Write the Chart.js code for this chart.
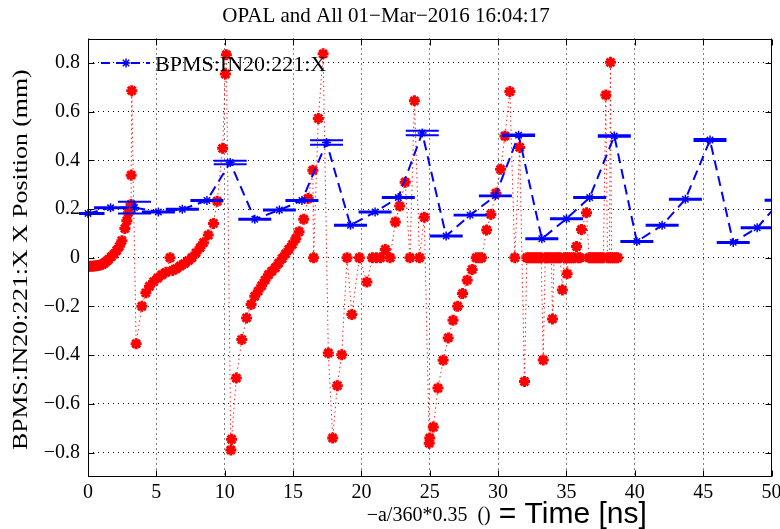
<!DOCTYPE html>
<html><head><meta charset="utf-8">
<script src="https://cdn.jsdelivr.net/npm/chart.js@4.4.0/dist/chart.umd.min.js"></script>
<style>html,body{margin:0;padding:0;background:#fff}#wrap{width:780px;height:529px;position:relative}</style>
</head><body><div id="wrap"><canvas id="c" width="780" height="529"></canvas></div>
<script>
// ---------- text ----------
const titleText = 'OPAL and All 01\u2212Mar\u22122016 16:04:17';
const yAxisTitle = 'BPMS:IN20:221:X X Position (mm)';
const xAxisTitleA = '\u2212a/360*0.35  ()';
const xAxisTitleB = '= Time [ns]';
const seriesLabel = 'BPMS:IN20:221:X';

// ---------- ticks ----------
const xTicks = [0, 5, 10, 15, 20, 25, 30, 35, 40, 45, 50];
const xTickLabels = ['0', '5', '10', '15', '20', '25', '30', '35', '40', '45', '50'];
const yTicks = [-0.8, -0.6, -0.4, -0.2, 0, 0.2, 0.4, 0.6, 0.8];
const yTickLabels = ['\u22120.8', '\u22120.6', '\u22120.4', '\u22120.2', '0', '0.2', '0.4', '0.6', '0.8'];

// ---------- BPM averaged series (blue, with error) ----------
const bpmTime = [0, 1.65, 3.4, 5.15, 6.9, 8.7, 10.4, 12.2, 14.0, 15.65, 17.45, 19.2, 21.0, 22.7, 24.45,
                 26.2, 27.95, 29.8, 31.5, 33.2, 35.0, 36.7, 38.5, 40.15, 42.0, 43.7, 45.5, 47.2, 48.95, 50.7];
const bpmPos  = [0.182, 0.205, 0.206, 0.188, 0.199, 0.235, 0.391, 0.158, 0.196, 0.235, 0.473, 0.133, 0.188, 0.247, 0.512,
                 0.089, 0.175, 0.254, 0.503, 0.078, 0.160, 0.247, 0.500, 0.067, 0.133, 0.240, 0.483, 0.063, 0.123, 0.236];
const bpmErr  = [0.002, 0.002, 0.024, 0.002, 0.002, 0.002, 0.007, 0.002, 0.002, 0.002, 0.009, 0.002, 0.002, 0.002, 0.009,
                 0.002, 0.002, 0.002, 0.003, 0.002, 0.002, 0.002, 0.003, 0.002, 0.002, 0.002, 0.004, 0.002, 0.002, 0.002];

// ---------- raw scan series (red) ----------
const scanTime = [0.0, 0.15, 0.3, 0.45, 0.6, 0.75, 0.9, 1.05, 1.2, 1.35, 1.5, 1.7, 1.9, 2.1, 2.3, 2.48, 2.7, 2.84, 2.95, 3.15, 3.16, 3.2,
  3.52, 3.94, 4.23, 4.5, 4.8, 5.1, 5.4, 5.7, 6.0, 6.2, 6.45, 6.75, 7.05, 7.35, 7.6, 7.9, 8.2, 8.45, 8.8, 9.18, 9.45, 9.85, 10.05, 10.12,
  10.45, 10.5, 10.85, 11.25, 11.6, 11.93, 12.2, 12.45, 12.7, 12.95, 13.2, 13.45, 13.7, 13.95, 14.2, 14.45, 14.7, 14.95, 15.2, 15.44, 15.78, 16.1, 16.45, 16.5, 16.85, 17.2,
  17.58, 17.9, 18.24, 18.56, 18.95, 19.3, 19.85, 20.4, 20.8, 21.1, 21.4, 21.75, 22.1, 22.48, 22.8, 23.2, 23.55, 23.88, 24.25, 24.6,
  24.96, 25.0, 25.26, 25.6, 25.98, 26.35, 26.7, 27.04, 27.4, 27.74, 28.1, 28.4, 28.6, 28.8, 29.16, 29.47, 29.84, 30.18, 30.5, 30.86, 31.22, 31.58,
  31.93, 32.1, 32.25, 32.4, 32.55, 32.7, 32.85, 33.0, 33.15, 33.3, 33.45, 33.6, 33.75, 33.9, 33.98, 34.1, 34.25, 34.4, 34.55, 34.7, 34.85, 35.0, 35.05,
  35.15, 35.3, 35.45, 35.6, 35.74, 35.85, 36.0, 36.1, 36.47,
  36.65, 36.8, 36.95, 37.1, 37.25, 37.4, 37.55, 37.7, 37.88, 38.0, 38.15, 38.22, 38.3, 38.45, 38.6, 38.75];
const scanPos = [-0.036, -0.035, -0.035, -0.034, -0.033, -0.032, -0.030, -0.027, -0.022, -0.015, -0.007, 0.004, 0.015, 0.030, 0.047, 0.070, 0.120, 0.152, 0.185, 0.219, 0.339, 0.686,
  -0.353, -0.199, -0.144, -0.117, -0.098, -0.083, -0.070, -0.060, 0.0, -0.052, -0.045, -0.034, -0.024, -0.012, 0.0, 0.020, 0.041, 0.062, 0.093, 0.141, 0.232, 0.449, 0.754, 0.833,
  -0.789, -0.745, -0.494, -0.336, -0.247, -0.192, -0.158, -0.137, -0.115, -0.092, -0.070, -0.055, -0.041, -0.022, -0.003, 0.016, 0.035, 0.055, 0.078, 0.107, 0.158, 0.243, 0.359, 0.0, 0.572, 0.837,
  -0.391, -0.740, -0.525, -0.398, 0.0, -0.233, 0.0, -0.100, 0.0, 0.0, 0.0, 0.034, 0.0, 0.147, 0.212, 0.310, 0.0, 0.644, 0.0, 0.166,
  -0.761, -0.740, -0.695, -0.535, -0.421, -0.329, -0.257, -0.199, -0.147, -0.092, -0.048, 0.0, 0.0, 0.0, 0.114, 0.178, 0.265, 0.363, 0.500, 0.682, 0.0, 0.453,
  -0.508, 0.0, 0.0, 0.0, 0.0, 0.0, 0.0, 0.0, 0.0, -0.420, 0.0, 0.0, 0.0, 0.0, -0.251, 0.0, 0.0, 0.0, 0.0, -0.132, 0.0, 0.0, -0.066,
  0.0, 0.0, 0.0, 0.0, 0.046, 0.0, 0.0, 0.116, 0.185,
  0.0, 0.0, 0.0, 0.0, 0.0, 0.0, 0.0, 0.0, 0.668, 0.0, 0.0, 0.802, 0.0, 0.0, 0.0, 0.0];

// ---------- styles ----------
const SERIF = '"Liberation Serif", "Times New Roman", serif';
const SANS = '"Liberation Sans", Arial, sans-serif';
const BLUE = '#0000ff';
const RED = '#ff0000';
const CAP_HALF_PX = 16.5;
const TICK_LEN = 6;

function star(ctx, x, y, r) {
  ctx.beginPath();
  for (let k = 0; k < 4; k++) {
    const a = k * Math.PI / 4;
    ctx.moveTo(x - r * Math.cos(a), y - r * Math.sin(a));
    ctx.lineTo(x + r * Math.cos(a), y + r * Math.sin(a));
  }
  ctx.stroke();
}

const decor = {
  id: 'decor',
  afterDatasetsDraw(chart) {
    const {ctx, chartArea: a, scales: {x, y}} = chart;
    ctx.save();
    ctx.beginPath();
    ctx.rect(a.left - 9, a.top, a.right - a.left + 9, a.bottom - a.top);
    ctx.clip();
    ctx.strokeStyle = BLUE;
    ctx.lineWidth = 2;
    bpmTime.forEach((t, i) => {
      const px = x.getPixelForValue(t);
      const yHi = y.getPixelForValue(bpmPos[i] + bpmErr[i]);
      const yLo = y.getPixelForValue(bpmPos[i] - bpmErr[i]);
      ctx.beginPath();
      ctx.moveTo(px - CAP_HALF_PX, yHi); ctx.lineTo(px + CAP_HALF_PX, yHi);
      ctx.moveTo(px - CAP_HALF_PX, yLo); ctx.lineTo(px + CAP_HALF_PX, yLo);
      ctx.moveTo(px, yHi); ctx.lineTo(px, yLo);
      ctx.stroke();
    });
    ctx.restore();
  },
  afterDraw(chart) {
    const {ctx, chartArea: a, scales: {x, y}} = chart;
    ctx.save();
    // frame
    ctx.strokeStyle = '#000';
    ctx.lineWidth = 1;
    const L = Math.round(a.left) + 0.5, R = Math.round(a.right) - 0.5, T = Math.round(a.top) + 0.5, B = Math.round(a.bottom) - 0.5;
    ctx.strokeRect(L, T, R - L, B - T);
    // inward ticks
    ctx.beginPath();
    xTicks.forEach(v => {
      const px = Math.round(x.getPixelForValue(v)) + 0.5;
      ctx.moveTo(px, B); ctx.lineTo(px, B - TICK_LEN);
      ctx.moveTo(px, T); ctx.lineTo(px, T + TICK_LEN);
    });
    yTicks.forEach(v => {
      const py = Math.round(y.getPixelForValue(v)) + 0.5;
      ctx.moveTo(L, py); ctx.lineTo(L + TICK_LEN, py);
      ctx.moveTo(R, py); ctx.lineTo(R - TICK_LEN, py);
    });
    ctx.stroke();

    // y axis title (rotated, stretched along its length like the reference)
    ctx.save();
    ctx.translate(22, (a.top + a.bottom) / 2 + 2);
    ctx.rotate(-Math.PI / 2);
    ctx.scale(1.29, 1);
    ctx.fillStyle = '#000';
    ctx.font = '20px ' + SERIF;
    ctx.textAlign = 'center';
    ctx.textBaseline = 'middle';
    ctx.fillText(yAxisTitle, 0, 0);
    ctx.restore();

    // legend (inside axes, top-left)
    const ly = a.top + 24.5;
    ctx.strokeStyle = BLUE;
    ctx.lineWidth = 2;
    ctx.setLineDash([9, 6]);
    ctx.beginPath(); ctx.moveTo(a.left + 13, ly); ctx.lineTo(a.left + 62, ly); ctx.stroke();
    ctx.setLineDash([]);
    ctx.lineWidth = 1.5;
    star(ctx, a.left + 38, ly, 4.5);
    ctx.fillStyle = '#000';
    ctx.font = '22px ' + SERIF;
    ctx.textBaseline = 'alphabetic';
    ctx.textAlign = 'left';
    ctx.fillText(chart.data.datasets[0].label, a.left + 67, ly + 8);

    // x axis title (mixed fonts)
    const fA = '20px ' + SERIF, fB = '30px ' + SANS;
    ctx.font = fA; const wA = ctx.measureText(xAxisTitleA).width;
    ctx.font = fB; const wB = ctx.measureText(xAxisTitleB).width;
    const gap = 8;
    const cx = (a.left + a.right) / 2 + 77;
    const sx = cx - (wA + gap + wB) / 2;
    const base = a.bottom + 44;
    ctx.font = fA; ctx.fillText(xAxisTitleA, sx, base);
    ctx.font = fB; ctx.fillText(xAxisTitleB, sx + wA + gap, base + 2);
    ctx.restore();
  }
};

new Chart(document.getElementById('c').getContext('2d'), {
  type: 'line',
  data: {
    datasets: [
      {
        label: seriesLabel,
        data: bpmTime.map((t, i) => ({x: t, y: bpmPos[i]})),
        borderColor: BLUE, backgroundColor: BLUE, borderWidth: 2, borderDash: [10, 6],
        pointStyle: 'star', pointRadius: 4.5, pointBorderWidth: 1.5, pointBorderColor: BLUE,
        fill: false, tension: 0, order: 0, clip: {left: 9, right: 0, top: 0, bottom: 0}
      },
      {
        label: 'scan',
        data: scanTime.map((t, i) => ({x: t, y: scanPos[i]})),
        borderColor: 'rgba(255,0,0,0.85)', backgroundColor: RED, borderWidth: 1, borderDash: [1.5, 3],
        pointStyle: 'star', pointRadius: 5.5, pointBorderWidth: 3, pointBorderColor: RED,
        fill: false, tension: 0, order: 1
      }
    ]
  },
  options: {
    responsive: false, animation: false, devicePixelRatio: 1,
    layout: {padding: {left: 0, right: 8, top: 0, bottom: 0}},
    plugins: {
      legend: {display: false},
      tooltip: {enabled: false},
      title: {
        display: true, text: titleText, color: '#000',
        font: {family: SERIF, size: 21, weight: 'normal'},
        padding: {top: 4, bottom: 9.3}
      }
    },
    scales: {
      x: {
        type: 'linear', min: 0, max: 50,
        afterBuildTicks: s => { s.ticks = xTicks.map(v => ({value: v})); },
        afterFit: s => { s.height = 52; s.paddingLeft = 0; s.paddingRight = 0; },
        ticks: {
          callback: (v, i) => xTickLabels[i], autoSkip: false, maxRotation: 0,
          color: '#000', font: {family: SERIF, size: 20}, padding: 4
        },
        grid: {color: '#000', lineWidth: 1, drawTicks: false},
        border: {display: false, dash: [1, 4]}
      },
      y: {
        type: 'linear', min: -0.9, max: 0.9,
        afterBuildTicks: s => { s.ticks = yTicks.map(v => ({value: v})); },
        afterFit: s => { s.width = 88; s.paddingTop = 0; s.paddingBottom = 0; },
        ticks: {
          callback: (v, i) => yTickLabels[i], autoSkip: false,
          color: '#000', font: {family: SERIF, size: 20}, padding: 8
        },
        grid: {color: '#000', lineWidth: 1, drawTicks: false},
        border: {display: false, dash: [1, 4]}
      }
    }
  },
  plugins: [decor]
});
</script>
</body></html>
